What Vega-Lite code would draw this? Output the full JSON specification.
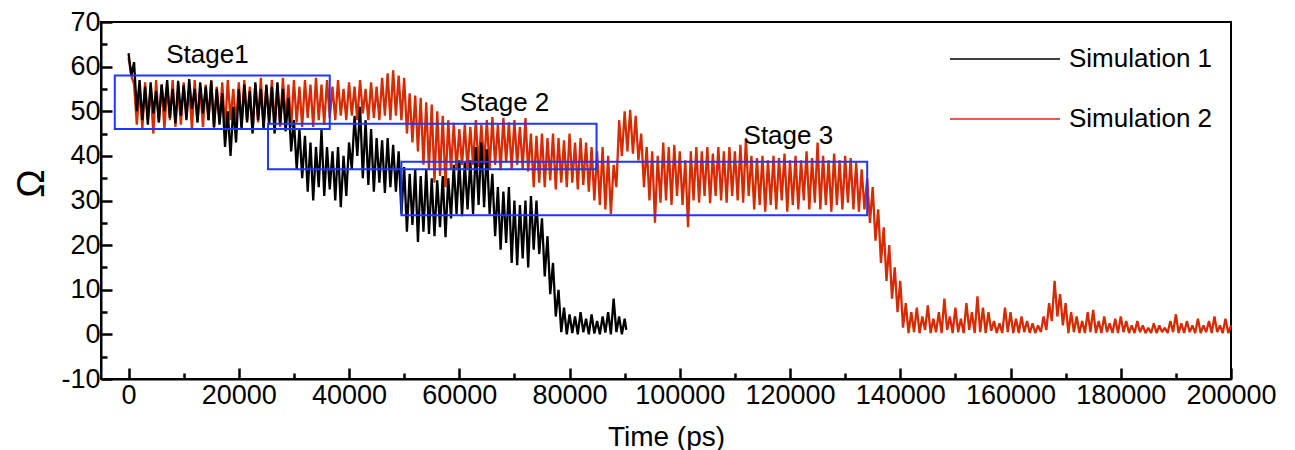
{
"$schema": "https://vega.github.io/schema/vega-lite/v6.json",
"width": 1130,
"height": 357,
"autosize": {"type": "none"},
"padding": {"left": 101, "top": 22, "right": 64, "bottom": 71},
"config": {
  "font": "Liberation Sans",
  "view": {"stroke": "#000000", "strokeWidth": 2},
  "axis": {"domainColor": "#000000", "domainWidth": 2, "ticks": true, "tickOpacity": 1, "tickColor": "#000000", "tickWidth": 2.5, "labelColor": "#000000", "titleColor": "#000000", "labelFont": "Liberation Sans", "titleFont": "Liberation Sans", "labelFontSize": 27, "titleFontWeight": "normal", "grid": false}
},
"resolve": {"axis": {"x": "independent", "y": "independent"}},
"datasets": {
"sim1": [
{"t":0,"v":63},{"t":500,"v":58},{"t":1000,"v":61},{"t":1500,"v":50},{"t":2000,"v":57},{"t":2500,"v":48},{"t":3000,"v":55.5},{"t":3500,"v":47},{"t":4000,"v":56.5},{"t":4500,"v":49.5},
{"t":5000,"v":54.5},{"t":5500,"v":47.5},{"t":6000,"v":56},{"t":6500,"v":50},{"t":7000,"v":57},{"t":7500,"v":48.5},{"t":8000,"v":55},{"t":8500,"v":47.3},{"t":9000,"v":56.8},{"t":9500,"v":49},
{"t":10000,"v":55.8},{"t":10500,"v":48},{"t":11000,"v":57.2},{"t":11500,"v":50.5},{"t":12000,"v":55},{"t":12500,"v":47.5},{"t":13000,"v":56.5},{"t":13500,"v":49.5},{"t":14000,"v":55.5},{"t":14500,"v":48},
{"t":15000,"v":56.8},{"t":15500,"v":46.5},{"t":16000,"v":55},{"t":16500,"v":47},{"t":17000,"v":54},{"t":17500,"v":42},{"t":18000,"v":50},{"t":18500,"v":40},{"t":19000,"v":51},{"t":19500,"v":43},
{"t":20000,"v":55},{"t":20500,"v":46},{"t":21000,"v":56},{"t":21500,"v":47.5},{"t":22000,"v":54.5},{"t":22500,"v":45},{"t":23000,"v":56.5},{"t":23500,"v":48},{"t":24000,"v":55},{"t":24500,"v":46},
{"t":25000,"v":56},{"t":25500,"v":47},{"t":26000,"v":55.5},{"t":26500,"v":45},{"t":27000,"v":56.5},{"t":27500,"v":47},{"t":28000,"v":55},{"t":28500,"v":45.5},{"t":29000,"v":53},{"t":29500,"v":41},
{"t":30000,"v":48},{"t":30500,"v":37},{"t":31000,"v":46},{"t":31500,"v":35},{"t":32000,"v":44.5},{"t":32500,"v":32},{"t":33000,"v":43},{"t":33500,"v":30},{"t":34000,"v":42},{"t":34500,"v":33},
{"t":35000,"v":45.8},{"t":35500,"v":31},{"t":36000,"v":42},{"t":36500,"v":32.5},{"t":37000,"v":41},{"t":37500,"v":30},{"t":38000,"v":42},{"t":38500,"v":28.5},{"t":39000,"v":40},{"t":39500,"v":31},
{"t":40000,"v":43},{"t":40500,"v":37},{"t":41000,"v":49},{"t":41500,"v":40},{"t":42000,"v":51},{"t":42500,"v":35},{"t":43000,"v":48},{"t":43500,"v":33.5},{"t":44000,"v":46},{"t":44500,"v":32},
{"t":45000,"v":44},{"t":45500,"v":34},{"t":46000,"v":43.5},{"t":46500,"v":31.7},{"t":47000,"v":44},{"t":47500,"v":33},{"t":48000,"v":42.5},{"t":48500,"v":32},{"t":49000,"v":41},{"t":49500,"v":27},
{"t":50000,"v":37.5},{"t":50500,"v":23},{"t":51000,"v":36},{"t":51500,"v":24.5},{"t":52000,"v":37},{"t":52500,"v":20.7},{"t":53000,"v":35.5},{"t":53500,"v":23},{"t":54000,"v":37},{"t":54500,"v":22.5},
{"t":55000,"v":35},{"t":55500,"v":22},{"t":56000,"v":34.5},{"t":56500,"v":24},{"t":57000,"v":35.5},{"t":57500,"v":21.8},{"t":58000,"v":35},{"t":58500,"v":26},{"t":59000,"v":38},{"t":59500,"v":27},
{"t":60000,"v":39},{"t":60500,"v":26.5},{"t":61000,"v":38.5},{"t":61500,"v":28},{"t":62000,"v":39},{"t":62500,"v":27},{"t":63000,"v":42},{"t":63500,"v":29},{"t":64000,"v":43},{"t":64500,"v":28.5},
{"t":65000,"v":41.5},{"t":65500,"v":27},{"t":66000,"v":36},{"t":66500,"v":22},{"t":67000,"v":33},{"t":67500,"v":19},{"t":68000,"v":32},{"t":68500,"v":20.5},{"t":69000,"v":33},{"t":69500,"v":16},
{"t":70000,"v":30},{"t":70500,"v":15.5},{"t":71000,"v":29},{"t":71500,"v":17},{"t":72000,"v":30},{"t":72500,"v":15},{"t":73000,"v":31},{"t":73500,"v":19},{"t":74000,"v":30},{"t":74500,"v":18},
{"t":75000,"v":26},{"t":75500,"v":13},{"t":76000,"v":22},{"t":76500,"v":9},{"t":77000,"v":16},{"t":77500,"v":4},{"t":78000,"v":10},{"t":78500,"v":0.5},{"t":79000,"v":6},{"t":79500,"v":0},
{"t":80000,"v":4.5},{"t":80500,"v":0.3},{"t":81000,"v":4},{"t":81500,"v":0},{"t":82000,"v":5},{"t":82500,"v":0.5},{"t":83000,"v":3.5},{"t":83500,"v":0},{"t":84000,"v":4.5},{"t":84500,"v":0.2},
{"t":85000,"v":3},{"t":85500,"v":0},{"t":86000,"v":4},{"t":86500,"v":0.4},{"t":87000,"v":5},{"t":87500,"v":0},{"t":88000,"v":8},{"t":88500,"v":0.5},{"t":89000,"v":4},{"t":89500,"v":0},
{"t":90000,"v":3.5},{"t":90300,"v":1}
],
"sim2": [
{"t":0,"v":62},{"t":500,"v":58},{"t":1000,"v":56},{"t":1500,"v":47},{"t":2000,"v":55},{"t":2500,"v":46},{"t":3000,"v":56.5},{"t":3500,"v":48},{"t":4000,"v":55},{"t":4500,"v":45},
{"t":5000,"v":57},{"t":5500,"v":47.5},{"t":6000,"v":56},{"t":6500,"v":46},{"t":7000,"v":55.5},{"t":7500,"v":48},{"t":8000,"v":57},{"t":8500,"v":46.5},{"t":9000,"v":55},{"t":9500,"v":47},
{"t":10000,"v":56.5},{"t":10500,"v":48.5},{"t":11000,"v":55.5},{"t":11500,"v":46},{"t":12000,"v":57},{"t":12500,"v":47.5},{"t":13000,"v":55},{"t":13500,"v":46.5},{"t":14000,"v":56},{"t":14500,"v":48},
{"t":15000,"v":57},{"t":15500,"v":46},{"t":16000,"v":55.5},{"t":16500,"v":47.5},{"t":17000,"v":56.5},{"t":17500,"v":46},{"t":18000,"v":57},{"t":18500,"v":48},{"t":19000,"v":55},{"t":19500,"v":47},
{"t":20000,"v":56.5},{"t":20500,"v":46.5},{"t":21000,"v":57},{"t":21500,"v":48},{"t":22000,"v":55.5},{"t":22500,"v":45.5},{"t":23000,"v":56},{"t":23500,"v":47.5},{"t":24000,"v":57.5},{"t":24500,"v":46.5},
{"t":25000,"v":55.5},{"t":25500,"v":48},{"t":26000,"v":57},{"t":26500,"v":47},{"t":27000,"v":56},{"t":27500,"v":46.5},{"t":28000,"v":57.5},{"t":28500,"v":48},{"t":29000,"v":56},{"t":29500,"v":46.5},
{"t":30000,"v":57},{"t":30500,"v":47.5},{"t":31000,"v":55.5},{"t":31500,"v":46.5},{"t":32000,"v":57},{"t":32500,"v":48.5},{"t":33000,"v":56},{"t":33500,"v":46.5},{"t":34000,"v":57.5},{"t":34500,"v":48},
{"t":35000,"v":56},{"t":35500,"v":47},{"t":36000,"v":57},{"t":36500,"v":48.5},{"t":37000,"v":55.5},{"t":37500,"v":48},{"t":38000,"v":57},{"t":38500,"v":49},{"t":39000,"v":55},{"t":39500,"v":48},
{"t":40000,"v":56.5},{"t":40500,"v":49},{"t":41000,"v":55.5},{"t":41500,"v":48},{"t":42000,"v":57},{"t":42500,"v":49.5},{"t":43000,"v":55},{"t":43500,"v":48},{"t":44000,"v":56.5},{"t":44500,"v":48.5},
{"t":45000,"v":55.5},{"t":45500,"v":48},{"t":46000,"v":57.5},{"t":46500,"v":49},{"t":47000,"v":58.5},{"t":47500,"v":48},{"t":48000,"v":59.2},{"t":48500,"v":49},{"t":49000,"v":58},{"t":49500,"v":48},
{"t":50000,"v":57.5},{"t":50500,"v":45},{"t":51000,"v":54},{"t":51500,"v":43},{"t":52000,"v":53.5},{"t":52500,"v":41},{"t":53000,"v":53},{"t":53500,"v":38},{"t":54000,"v":52},{"t":54500,"v":37},
{"t":55000,"v":51.5},{"t":55500,"v":34},{"t":56000,"v":50},{"t":56500,"v":35.5},{"t":57000,"v":49},{"t":57500,"v":33},{"t":58000,"v":48},{"t":58500,"v":37},{"t":59000,"v":47.4},{"t":59500,"v":36.8},
{"t":60000,"v":46},{"t":60500,"v":38},{"t":61000,"v":47},{"t":61500,"v":37},{"t":62000,"v":46.5},{"t":62500,"v":38},{"t":63000,"v":48},{"t":63500,"v":37.5},{"t":64000,"v":47},{"t":64500,"v":38},
{"t":65000,"v":48},{"t":65500,"v":37},{"t":66000,"v":48.7},{"t":66500,"v":38},{"t":67000,"v":47},{"t":67500,"v":36.8},{"t":68000,"v":48.5},{"t":68500,"v":38.5},{"t":69000,"v":47.5},{"t":69500,"v":37},
{"t":70000,"v":48},{"t":70500,"v":38},{"t":71000,"v":46.5},{"t":71500,"v":37},{"t":72000,"v":48.5},{"t":72500,"v":36.5},{"t":73000,"v":45},{"t":73500,"v":33},{"t":74000,"v":44.5},{"t":74500,"v":34},
{"t":75000,"v":45},{"t":75500,"v":33},{"t":76000,"v":44},{"t":76500,"v":34.5},{"t":77000,"v":45},{"t":77500,"v":32.5},{"t":78000,"v":44},{"t":78500,"v":34},{"t":79000,"v":43.5},{"t":79500,"v":33},
{"t":80000,"v":45},{"t":80500,"v":34},{"t":81000,"v":43},{"t":81500,"v":32.5},{"t":82000,"v":44},{"t":82500,"v":33.5},{"t":83000,"v":43},{"t":83500,"v":32},{"t":84000,"v":42},{"t":84500,"v":30},
{"t":85000,"v":41},{"t":85500,"v":29},{"t":86000,"v":42},{"t":86500,"v":28},{"t":87000,"v":40},{"t":87500,"v":27},{"t":88000,"v":38},{"t":88500,"v":33},{"t":89000,"v":48},{"t":89500,"v":40},
{"t":90000,"v":50},{"t":90500,"v":41},{"t":91000,"v":50.3},{"t":91500,"v":40.5},{"t":92000,"v":49},{"t":92500,"v":39},{"t":93000,"v":45},{"t":93500,"v":33},{"t":94000,"v":42},{"t":94500,"v":30},
{"t":95000,"v":41},{"t":95500,"v":25},{"t":96000,"v":40},{"t":96500,"v":29.5},{"t":97000,"v":43},{"t":97500,"v":30},{"t":98000,"v":42},{"t":98500,"v":29},{"t":99000,"v":42.5},{"t":99500,"v":31},
{"t":100000,"v":41},{"t":100500,"v":29},{"t":101000,"v":39},{"t":101500,"v":24},{"t":102000,"v":41},{"t":102500,"v":30},{"t":103000,"v":42},{"t":103500,"v":29.5},{"t":104000,"v":41},{"t":104500,"v":31},
{"t":105000,"v":42},{"t":105500,"v":29.4},{"t":106000,"v":40.5},{"t":106500,"v":31},{"t":107000,"v":42},{"t":107500,"v":30},{"t":108000,"v":41},{"t":108500,"v":29.5},{"t":109000,"v":42},{"t":109500,"v":31},
{"t":110000,"v":41},{"t":110500,"v":30},{"t":111000,"v":42.5},{"t":111500,"v":29.5},{"t":112000,"v":44},{"t":112500,"v":31},{"t":113000,"v":40},{"t":113500,"v":28},{"t":114000,"v":39.5},{"t":114500,"v":29},
{"t":115000,"v":40},{"t":115500,"v":27.5},{"t":116000,"v":39},{"t":116500,"v":29},{"t":117000,"v":40},{"t":117500,"v":28},{"t":118000,"v":39.5},{"t":118500,"v":30},{"t":119000,"v":40.5},{"t":119500,"v":27.5},
{"t":120000,"v":39},{"t":120500,"v":29},{"t":121000,"v":40},{"t":121500,"v":28},{"t":122000,"v":39},{"t":122500,"v":30},{"t":123000,"v":41},{"t":123500,"v":28},{"t":124000,"v":39.5},{"t":124500,"v":29.5},
{"t":125000,"v":43},{"t":125500,"v":28},{"t":126000,"v":40},{"t":126500,"v":29},{"t":127000,"v":39},{"t":127500,"v":27.5},{"t":128000,"v":40.5},{"t":128500,"v":29},{"t":129000,"v":39},{"t":129500,"v":28},
{"t":130000,"v":40},{"t":130500,"v":29.5},{"t":131000,"v":39.5},{"t":131500,"v":28},{"t":132000,"v":38.5},{"t":132500,"v":27.5},{"t":133000,"v":37},{"t":133500,"v":28},{"t":134000,"v":35},{"t":134500,"v":25},
{"t":135000,"v":33},{"t":135500,"v":21},{"t":136000,"v":28},{"t":136500,"v":16},{"t":137000,"v":24},{"t":137500,"v":12},{"t":138000,"v":20},{"t":138500,"v":8},{"t":139000,"v":15},{"t":139500,"v":5},
{"t":140000,"v":12},{"t":140500,"v":1.5},{"t":141000,"v":7},{"t":141500,"v":0.3},{"t":142000,"v":5},{"t":142500,"v":0.5},{"t":143000,"v":6},{"t":143500,"v":0.3},{"t":144000,"v":4},{"t":144500,"v":1},
{"t":145000,"v":6.5},{"t":145500,"v":0.3},{"t":146000,"v":3.5},{"t":146500,"v":0.5},{"t":147000,"v":5},{"t":147500,"v":0.3},{"t":148000,"v":8},{"t":148500,"v":1},{"t":149000,"v":4},{"t":149500,"v":0.3},
{"t":150000,"v":6},{"t":150500,"v":0.5},{"t":151000,"v":3.5},{"t":151500,"v":0.3},{"t":152000,"v":7},{"t":152500,"v":1},{"t":153000,"v":5},{"t":153500,"v":0.3},{"t":154000,"v":8.5},{"t":154500,"v":0.5},
{"t":155000,"v":6},{"t":155500,"v":0.3},{"t":156000,"v":5},{"t":156500,"v":0.8},{"t":157000,"v":3},{"t":157500,"v":0.3},{"t":158000,"v":2.5},{"t":158500,"v":0.3},{"t":159000,"v":6},{"t":159500,"v":0.5},
{"t":160000,"v":5},{"t":160500,"v":0.3},{"t":161000,"v":3.5},{"t":161500,"v":0.3},{"t":162000,"v":4},{"t":162500,"v":0.5},{"t":163000,"v":3},{"t":163500,"v":0.3},{"t":164000,"v":2.5},{"t":164500,"v":0.3},
{"t":165000,"v":2},{"t":165500,"v":0.5},{"t":166000,"v":4},{"t":166500,"v":1},{"t":167000,"v":7},{"t":167500,"v":3},{"t":168000,"v":12},{"t":168500,"v":4},{"t":169000,"v":9},{"t":169500,"v":2},
{"t":170000,"v":7},{"t":170500,"v":0.3},{"t":171000,"v":5},{"t":171500,"v":0.5},{"t":172000,"v":4},{"t":172500,"v":0.3},{"t":173000,"v":3},{"t":173500,"v":0.3},{"t":174000,"v":5},{"t":174500,"v":0.5},
{"t":175000,"v":5.5},{"t":175500,"v":0.3},{"t":176000,"v":3},{"t":176500,"v":0.3},{"t":177000,"v":4},{"t":177500,"v":0.5},{"t":178000,"v":2.5},{"t":178500,"v":0.3},{"t":179000,"v":3.5},{"t":179500,"v":0.3},
{"t":180000,"v":4},{"t":180500,"v":0.5},{"t":181000,"v":3},{"t":181500,"v":0.3},{"t":182000,"v":2},{"t":182500,"v":0.3},{"t":183000,"v":3},{"t":183500,"v":0.5},{"t":184000,"v":2},{"t":184500,"v":0.3},
{"t":185000,"v":1.5},{"t":185500,"v":0.3},{"t":186000,"v":2.5},{"t":186500,"v":0.3},{"t":187000,"v":2},{"t":187500,"v":0.5},{"t":188000,"v":1.5},{"t":188500,"v":0.3},{"t":189000,"v":3},{"t":189500,"v":0.5},
{"t":190000,"v":4.5},{"t":190500,"v":0.3},{"t":191000,"v":2.5},{"t":191500,"v":0.3},{"t":192000,"v":3},{"t":192500,"v":0.5},{"t":193000,"v":2},{"t":193500,"v":0.3},{"t":194000,"v":3.5},{"t":194500,"v":0.3},
{"t":195000,"v":2},{"t":195500,"v":0.5},{"t":196000,"v":3},{"t":196500,"v":0.3},{"t":197000,"v":4},{"t":197500,"v":0.5},{"t":198000,"v":2},{"t":198500,"v":0.3},{"t":199000,"v":3.5},{"t":199500,"v":0.3},
{"t":200000,"v":2}
],
"boxes": [
{"stage":"Stage 1","x1":-2500,"x2":36500,"y1":46,"y2":58},
{"stage":"Stage 2","x1":25300,"x2":84900,"y1":37,"y2":47.2},
{"stage":"Stage 3","x1":49500,"x2":134000,"y1":26.7,"y2":38.7}
],
"labels": [
{"t":14300,"v":62.6,"label":"Stage1"},
{"t":68200,"v":51.8,"label":"Stage 2"},
{"t":119700,"v":44.5,"label":"Stage 3"}
]
},
"layer": [
{
  "data": {"name": "sim2"},
  "mark": {"type": "line", "strokeWidth": 2.3, "strokeJoin": "bevel"},
  "encoding": {
    "x": {"field": "t", "type": "quantitative", "scale": {"domain": [-5000, 200000], "nice": false, "zero": false},
      "axis": {"orient": "bottom", "title": "Time (ps)", "titleFontSize": 28, "titleY": 44, "titleBaseline": "top", "values": [0,20000,40000,60000,80000,100000,120000,140000,160000,180000,200000],
        "labelExpr": "'' + datum.value", "labelPadding": 14, "labelFlush": false, "labelOverlap": false,
        "ticks": true, "tickSize": -11}},
    "y": {"field": "v", "type": "quantitative", "scale": {"domain": [-10, 70], "nice": false, "zero": false},
      "axis": {"orient": "left", "title": "Ω", "titleFontSize": 38, "titleX": -50, "titleY": 161, "titleBaseline": "bottom", "titleAngle": -90, "values": [-10,0,10,20,30,40,50,60,70],
        "labelExpr": "'' + datum.value", "labelPadding": 12, "labelFlush": false, "labelOverlap": false,
        "ticks": true, "tickSize": -11}},
    "color": {"datum": "Simulation 2", "type": "nominal",
      "scale": {"domain": ["Simulation 1", "Simulation 2"], "range": ["#000000", "#d82a00"]},
      "legend": {"title": null, "orient": "none", "legendX": 848, "legendY": 22, "symbolType": "stroke", "symbolSize": 12100, "symbolStrokeWidth": 1.5, "clipHeight": 30, "labelFontSize": 26, "labelFont": "Liberation Sans", "labelColor": "#000000", "rowPadding": 30, "labelOffset": 8, "padding": 0}}
  }
},
{
  "data": {"name": "sim1"},
  "mark": {"type": "line", "strokeWidth": 2.3, "strokeJoin": "bevel"},
  "encoding": {
    "x": {"field": "t", "type": "quantitative", "axis": null},
    "y": {"field": "v", "type": "quantitative", "axis": null},
    "color": {"datum": "Simulation 1", "type": "nominal"}
  }
},
{
  "data": {"name": "boxes"},
  "mark": {"type": "rect", "filled": false, "stroke": "#2035ff", "strokeWidth": 2},
  "encoding": {
    "x": {"field": "x1", "type": "quantitative", "scale": {"domain": [-5000, 200000], "nice": false, "zero": false},
      "axis": {"orient": "bottom", "title": null, "labels": false, "domain": false, "values": [10000,30000,50000,70000,90000,110000,130000,150000,170000,190000], "ticks": true, "tickSize": -6}},
    "x2": {"field": "x2"},
    "y": {"field": "y1", "type": "quantitative", "scale": {"domain": [-10, 70], "nice": false, "zero": false},
      "axis": {"orient": "left", "title": null, "labels": false, "domain": false, "values": [-5,5,15,25,35,45,55,65], "ticks": true, "tickSize": -6}},
    "y2": {"field": "y2"}
  }
},
{
  "data": {"name": "labels"},
  "mark": {"type": "text", "fontSize": 26, "font": "Liberation Sans", "color": "#000000"},
  "encoding": {
    "x": {"field": "t", "type": "quantitative", "axis": null},
    "y": {"field": "v", "type": "quantitative", "axis": null},
    "text": {"field": "label"}
  }
}
]
}
